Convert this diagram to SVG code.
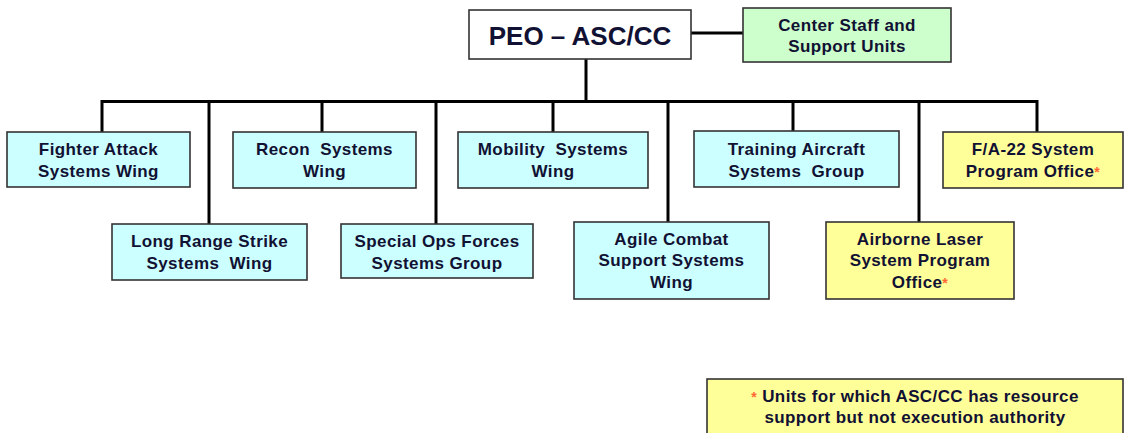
<svg xmlns="http://www.w3.org/2000/svg" width="1125" height="433" viewBox="0 0 1125 433">
<style>
.box{stroke:#333;stroke-width:1.6}
.cyan{fill:#CCFFFF}
.green{fill:#CCFFCC}
.yellow{fill:#FFFF99}
.t{font-family:"Liberation Sans",Arial,sans-serif;font-weight:bold;font-size:17px;fill:#111133;text-anchor:middle;letter-spacing:0.4px;white-space:pre}
.star{fill:#FF6633;font-size:14px}
.con{stroke:#000;stroke-width:3;fill:none}
</style>
<rect width="1125" height="433" fill="#fff"/>
<g id="connectors">
<path class="con" d="M586 59V101.5M102 101.5H1037M691 33H743M102 100V132M209 100V224M322 100V132M436 100V224M553 100V132M668 100V222M793 100V131M919 100V222M1037 100V132"/>
</g>
<g id="peo"><rect class="box" x="469" y="10" width="222" height="49" fill="#fff"/><text class="t" x="580" y="45" style="font-size:26px;letter-spacing:0">PEO – ASC/CC</text></g>
<g id="center-staff"><rect class="box green" x="743" y="8" width="208" height="54"/><text class="t" x="847" y="31">Center Staff and</text><text class="t" x="847" y="52">Support Units</text></g>
<g id="fighter"><rect class="box cyan" x="7" y="132" width="183" height="55"/><text class="t" x="98.5" y="155">Fighter Attack</text><text class="t" x="98.5" y="177">Systems Wing</text></g>
<g id="recon"><rect class="box cyan" x="233" y="132" width="183" height="56"/><text class="t" x="324.5" y="155">Recon  Systems</text><text class="t" x="324.5" y="177">Wing</text></g>
<g id="mobility"><rect class="box cyan" x="458" y="132" width="190" height="56"/><text class="t" x="553" y="155">Mobility  Systems</text><text class="t" x="553" y="177">Wing</text></g>
<g id="training"><rect class="box cyan" x="694" y="131" width="205" height="56"/><text class="t" x="796.5" y="155">Training Aircraft</text><text class="t" x="796.5" y="177">Systems  Group</text></g>
<g id="fa22"><rect class="box yellow" x="943" y="132" width="180" height="56"/><text class="t" x="1033" y="155">F/A-22 System</text><text class="t" x="1033" y="177">Program Office<tspan class="star">*</tspan></text></g>
<g id="long-range"><rect class="box cyan" x="112" y="224" width="195" height="56"/><text class="t" x="209.5" y="247">Long Range Strike</text><text class="t" x="209.5" y="269">Systems  Wing</text></g>
<g id="special-ops"><rect class="box cyan" x="341" y="224" width="192" height="54"/><text class="t" x="437" y="247">Special Ops Forces</text><text class="t" x="437" y="269">Systems Group</text></g>
<g id="agile"><rect class="box cyan" x="574" y="222" width="195" height="77"/><text class="t" x="671.5" y="245">Agile Combat</text><text class="t" x="671.5" y="266">Support Systems</text><text class="t" x="671.5" y="288">Wing</text></g>
<g id="airborne"><rect class="box yellow" x="826" y="222" width="188" height="77"/><text class="t" x="920" y="245">Airborne Laser</text><text class="t" x="920" y="266">System Program</text><text class="t" x="920" y="288">Office<tspan class="star">*</tspan></text></g>
<g id="legend"><rect class="box yellow" x="707" y="379" width="416" height="62"/><text class="t" x="915" y="402"><tspan class="star">*</tspan> Units for which ASC/CC has resource</text><text class="t" x="915" y="423">support but not execution authority</text></g>
</svg>
